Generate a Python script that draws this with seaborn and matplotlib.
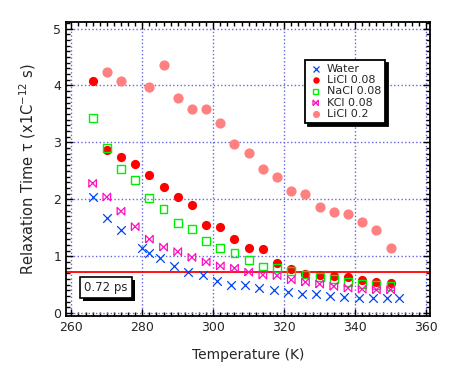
import numpy as np
import matplotlib
matplotlib.use("Agg")
import matplotlib.pyplot as plt
import matplotlib.patheffects as pe
from matplotlib.ticker import MultipleLocator
import seaborn as sns

# temperatures (K) and relaxation times (x1e-12 s)
water_t = [266, 270, 274, 280, 282, 285, 289, 293, 297, 301, 305, 309,
           313, 317, 321, 325, 329, 333, 337, 341, 345, 349, 352.5]
water_tau = [2.04, 1.67, 1.46, 1.14, 1.05, 0.97, 0.83, 0.73, 0.67, 0.56, 0.50, 0.49,
             0.44, 0.40, 0.38, 0.34, 0.34, 0.31, 0.29, 0.27, 0.27, 0.27, 0.26]

salt_t = [266, 270, 274, 278, 282, 286, 290, 294, 298, 302, 306,
          310, 314, 318, 322, 326, 330, 334, 338, 342, 346, 350]
licl08_tau = [4.08, 2.87, 2.75, 2.62, 2.43, 2.22, 2.04, 1.90, 1.55, 1.51, 1.31,
              1.14, 1.12, 0.89, 0.77, 0.69, 0.67, 0.66, 0.63, 0.585, 0.545, 0.53]
nacl08_tau = [3.43, 2.90, 2.53, 2.34, 2.02, 1.83, 1.59, 1.48, 1.27, 1.14, 1.05,
              0.94, 0.82, 0.80, 0.74, 0.68, 0.64, 0.60, 0.555, 0.515, 0.50, 0.48]
kcl08_tau = [2.28, 2.04, 1.79, 1.52, 1.30, 1.16, 1.08, 0.98, 0.90, 0.83, 0.79,
             0.72, 0.67, 0.66, 0.585, 0.545, 0.51, 0.47, 0.44, 0.42, 0.41, 0.41]

licl2_t = [270, 274, 282, 286, 290, 294, 298, 302, 306, 310,
           314, 318, 322, 326, 330, 334, 338, 342, 346, 350]
licl2_tau = [4.24, 4.08, 3.97, 4.36, 3.78, 3.59, 3.59, 3.34, 2.97, 2.82,
             2.53, 2.40, 2.15, 2.10, 1.86, 1.78, 1.74, 1.60, 1.46, 1.15]

ref_tau = 0.72

sns.set_style("ticks")
plt.rcParams['font.family'] = ['DejaVu Sans']

fig = plt.figure(figsize=(4.54, 3.69), dpi=100)
ax = fig.add_axes([0.1454, 0.1436, 0.8016, 0.796])

bowtie = [(-1, -1), (1, 1), (1, -1), (-1, 1), (-1, -1)]

sns.scatterplot(x=licl2_t, y=licl2_tau, marker='o', s=54, color='#ff8080',
                edgecolor='#ff8080', linewidth=0, ax=ax, label='LiCl 0.2', zorder=3)
sns.scatterplot(x=salt_t, y=licl08_tau, marker='o', s=44, color='#ff0000',
                edgecolor='#ff0000', linewidth=0, ax=ax, label='LiCl 0.08', zorder=3)
sns.scatterplot(x=salt_t, y=nacl08_tau, marker='s', s=32, facecolor='none',
                edgecolor='#00ee00', linewidth=1.0, ax=ax, label='NaCl 0.08', zorder=4)
sns.scatterplot(x=salt_t, y=kcl08_tau, marker=bowtie, s=30, facecolor='none',
                edgecolor='#ff10c0', linewidth=0.9, ax=ax, label='KCl 0.08', zorder=4)
sns.scatterplot(x=water_t, y=water_tau, marker='x', s=38, color='#0044ee',
                linewidth=0.9, ax=ax, label='Water', zorder=5)

ax.axhline(ref_tau, color='red', lw=1.3, zorder=2, clip_on=False)

ax.set_xlim(258.5, 361.1)
ax.set_ylim(-0.05, 5.11)
ax.xaxis.set_major_locator(MultipleLocator(20))
ax.xaxis.set_minor_locator(MultipleLocator(2))
ax.yaxis.set_major_locator(MultipleLocator(1))
ax.yaxis.set_minor_locator(MultipleLocator(0.1))
ax.tick_params(which='both', direction='in', top=True, right=True, labelsize=9,
               color='black', width=1.0)
ax.tick_params(which='major', length=5)
ax.tick_params(which='minor', length=3)
for sp in ax.spines.values():
    sp.set_linewidth(1.3)
    sp.set_color('black')
ax.grid(which='major', color='#6666e0', linestyle=':', lw=1.0)
ax.set_axisbelow(True)

ax.set_xlabel('Temperature (K)', fontsize=10, labelpad=10)
ax.set_ylabel('Relaxation Time τ (x1C$^{-12}$ s)', fontsize=10.5, labelpad=11)

# legend in the original order
handles, labels = ax.get_legend_handles_labels()
order = ['Water', 'LiCl 0.08', 'NaCl 0.08', 'KCl 0.08', 'LiCl 0.2']
hmap = dict(zip(labels, handles))
leg = ax.legend([hmap[k] for k in order], order, loc='upper left',
                bbox_to_anchor=(0.657, 0.872), borderaxespad=0, fontsize=8,
                fancybox=False, framealpha=1, edgecolor='black', markerscale=0.7,
                handlelength=1.2, handletextpad=0.4, labelspacing=0.12, borderpad=0.35,
                shadow={'facecolor': 'black', 'edgecolor': 'black', 'alpha': 1})
leg.get_frame().set_linewidth(1.3)

# label box with drop shadow
t = ax.text(269.8, 0.457, '0.72 ps', fontsize=8.5, ha='center', va='center',
            bbox=dict(boxstyle='square,pad=0.35', fc='white', ec='black', lw=1.2), zorder=7)
t.get_bbox_patch().set_path_effects([
    pe.SimplePatchShadow(offset=(2.2, -2.2), shadow_rgbFace='black', alpha=1),
    pe.Normal()])

fig.savefig('out.png', dpi=100)
